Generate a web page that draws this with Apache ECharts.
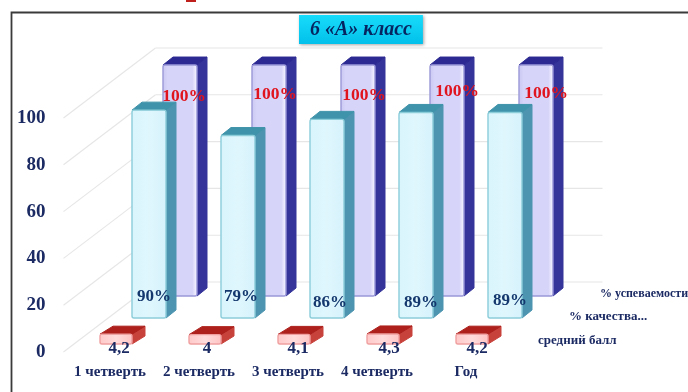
<!DOCTYPE html>
<html><head><meta charset="utf-8">
<style>html,body{margin:0;padding:0;background:#fff}#c{width:688px;height:392px;filter:blur(0.7px)}</style>
<script src="https://cdn.jsdelivr.net/npm/echarts@6/dist/echarts.min.js"></script>
</head><body><div id="c"></div>
<script>
const categories = ['1 четверть','2 четверть','3 четверть','4 четверть','Год'];
const yTicks = [0,20,40,60,80,100];
const avgScore = [4.2,4,4.1,4.3,4.2];
const quality = [90,79,86,89,89];
const success = [100,100,100,100,100];
const avgLabels = ['4,2','4','4,1','4,3','4,2'];
const seriesNames = ['% успеваемости','% качества...','средний балл'];
const titleText = '6 «А» класс';

const SERIF = '"Liberation Serif","DejaVu Serif",serif';
const NAVY = '#1b2a63';
const chart = echarts.init(document.getElementById('c'), null, {renderer:'canvas'});

function hGrad(stops){return new echarts.graphic.LinearGradient(0,0,1,0,stops.map((c)=>({offset:c[0],color:c[1]})));}

function box(row, style, labelText, labelStyle, nudge){
  return function(params, api){
    const i = api.value(0), v = api.value(1);
    const base = api.coord([i,0]), top = api.coord([i,v]);
    const cx = base[0]+row.dx, w = row.w, x0 = cx-w/2, x1 = cx+w/2;
    const yb = base[1]+row.dy, yt = yb-(base[1]-top[1])*row.scale, dx = row.depthX, dy = row.depthY;
    const poly = (pts,fill)=>({type:'polygon',shape:{points:pts},style:{fill,stroke:fill,lineWidth:1,lineJoin:'round'}});
    const kids = [
      poly([[x1,yb],[x1+dx,yb-dy],[x1+dx,yt-dy],[x1,yt]],style.side),
      poly([[x0,yt],[x0+dx,yt-dy],[x1+dx,yt-dy],[x1,yt]],style.top),
      {type:'rect',shape:{x:x0,y:yt,width:w,height:yb-yt,r:2},style:{fill:style.face,stroke:style.edge,lineWidth:1.4}}
    ];
    const n = nudge[i];
    kids.push({type:'text',x:cx+n[0],y:(labelStyle.atTop?yt:yb)+n[1],z2:10,style:{
      text:labelText(i,v),fill:labelStyle.color,font:'bold '+labelStyle.size+'px '+SERIF,align:'center',verticalAlign:'middle'}});
    return {type:'group',children:kids};
  };
}

const rowRed = {dx:6,dy:-8,w:32,depthX:13,depthY:8,scale:1};
const rowCyan = {dx:39,dy:-34,w:34,depthX:10,depthY:8,scale:0.987};
const rowPurple = {dx:70,dy:-56,w:34,depthX:10,depthY:8,scale:0.987};

const nudgePurple = [[4,31],[6,29],[6,30],[10,26],[10,28]];
const nudgeCyan = [[5,-21],[3,-21],[3,-15],[5,-15],[5,-17]];
const nudgeRed = [[3,5],[2,5],[4,5],[6,5],[5,5]];

const wallDx = 92, wallDy = 70;
function wallLines(params, api){
  const v = api.value(0), c = params.coordSys, y = api.coord([0,v])[1], x = c.x-2;
  const st = {stroke:'#e6e6e6',lineWidth:1.1};
  return {type:'group',children:[
    {type:'line',shape:{x1:x,y1:y,x2:x+wallDx,y2:y-wallDy},style:st},
    {type:'line',shape:{x1:x+wallDx,y1:y-wallDy,x2:x+wallDx+447,y2:y-wallDy},style:st}
  ]};
}

chart.setOption({
  animation:false,
  backgroundColor:'#fff',
  title:{text:titleText,left:299,top:15,padding:[5,11,4,11],itemGap:0,
    backgroundColor:new echarts.graphic.LinearGradient(0,0,0,1,[{offset:0,color:'#18dcfb'},{offset:1,color:'#02c0ea'}]),
    shadowColor:'rgba(0,0,0,0.35)',shadowBlur:3,shadowOffsetX:1,shadowOffsetY:1,
    textStyle:{fontFamily:SERIF,fontStyle:'italic',fontWeight:'bold',fontSize:20,color:'#06245f'}},
  grid:{left:65.5,width:445,top:118,bottom:40,containLabel:false},
  xAxis:{type:'category',data:categories,axisLine:{show:false},axisTick:{show:false},
    axisLabel:{margin:13,interval:0,fontFamily:SERIF,fontWeight:'bold',fontSize:15,color:NAVY}},
  yAxis:{type:'value',min:0,max:100,interval:20,axisLine:{show:false},axisTick:{show:false},splitLine:{show:false},
    axisLabel:{margin:20,padding:[6,0,0,0],fontFamily:SERIF,fontWeight:'bold',fontSize:19,color:NAVY}},
  graphic:[
    {type:'rect',shape:{x:11.5,y:12.5,width:690,height:400},style:{fill:'none',stroke:'#3a3a3a',lineWidth:1.8},z:-1,silent:true},
    {type:'rect',shape:{x:186,y:0,width:10,height:2},style:{fill:'#c0201c'},silent:true},
    {type:'text',x:600,y:294,style:{text:seriesNames[0],font:'bold 12px '+SERIF,fill:NAVY,verticalAlign:'middle'}},
    {type:'text',x:569,y:317,style:{text:seriesNames[1],font:'bold 13px '+SERIF,fill:NAVY,verticalAlign:'middle'}},
    {type:'text',x:538,y:341,style:{text:seriesNames[2],font:'bold 13px '+SERIF,fill:NAVY,verticalAlign:'middle'}}
  ],
  series:[
    {type:'custom',name:'grid',silent:true,z:1,data:yTicks.map(v=>[v]),encode:{y:0},renderItem:wallLines,clip:false},
    {type:'custom',name:seriesNames[0],z:2,clip:false,data:success.map((v,i)=>[i,v]),encode:{x:0,y:1},
      renderItem:box(rowPurple,{side:'#35349a',top:'#2c2a92',edge:'#9a98d8',
        face:hGrad([[0,'#c9c6f2'],[0.15,'#d6d4f8'],[0.85,'#d6d4f8'],[0.95,'#f0efff'],[1,'#c9c6f2']])},
        (i)=>success[i]+'%',{color:'#e0141e',size:17.5,atTop:true},nudgePurple)},
    {type:'custom',name:seriesNames[1],z:3,clip:false,data:quality.map((v,i)=>[i,v]),encode:{x:0,y:1},
      renderItem:box(rowCyan,{side:'#4c94b0',top:'#3f93aa',edge:'#8ccdda',
        face:hGrad([[0,'#d9f5fc'],[0.5,'#dff6fd'],[1,'#d6f2fc']])},
        (i)=>quality[i]+'%',{color:'#14386e',size:17,atTop:false},nudgeCyan)},
    {type:'custom',name:seriesNames[2],z:4,clip:false,data:avgScore.map((v,i)=>[i,v]),encode:{x:0,y:1},
      renderItem:box(rowRed,{side:'#c8423c',top:'#ad201c',edge:'#f0a0a0',
        face:hGrad([[0,'#ffc8c8'],[0.5,'#ffdcdc'],[1,'#ffc4c4']])},
        (i)=>avgLabels[i],{color:NAVY,size:17,atTop:false},nudgeRed)}
  ]
});
</script></body></html>
